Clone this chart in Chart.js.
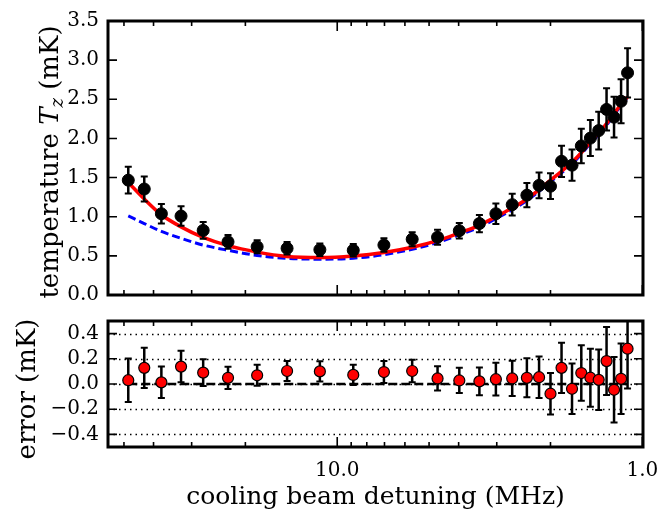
<!DOCTYPE html>
<html>
<head>
<meta charset="utf-8">
<script src="https://cdn.jsdelivr.net/npm/chart.js@4.4.0/dist/chart.umd.min.js"></script>
<style>
  html, body { margin: 0; padding: 0; background: #fff; }
  #wrap { position: relative; width: 661px; height: 513px; }
  #tempChart { position: absolute; left: 0; top: 0; }
  #errChart { position: absolute; left: 0; top: 300px; }
</style>
</head>
<body>
<div id="wrap">
  <canvas id="tempChart" width="661" height="320"></canvas>
  <canvas id="errChart" width="661" height="213"></canvas>
</div>
<script>
// detuning in MHz (x axis, log, reversed)
const detuning = [48.4, 42.9, 37.7, 32.5, 27.5, 22.8, 18.3, 14.6, 11.4, 8.86,
  7.03, 5.68, 4.69, 3.98, 3.42, 3.02, 2.67, 2.39, 2.18, 2.0,
  1.84, 1.70, 1.585, 1.48, 1.39, 1.31, 1.238, 1.174, 1.118];

// measured temperature T_z (mK)
const temperature = [1.467, 1.354, 1.038, 1.008, 0.825, 0.679, 0.617, 0.596, 0.579, 0.571,
  0.638, 0.713, 0.738, 0.821, 0.913, 1.038, 1.154, 1.275, 1.400, 1.390,
  1.708, 1.658, 1.904, 2.004, 2.100, 2.371, 2.271, 2.475, 2.838];

// one sigma error bars (mK), same for both panels
const sigma = [0.172, 0.16, 0.125, 0.125, 0.106, 0.088, 0.083, 0.08, 0.08, 0.08,
  0.087, 0.09, 0.096, 0.1, 0.11, 0.13, 0.14, 0.155, 0.165, 0.165,
  0.2, 0.2, 0.22, 0.23, 0.24, 0.27, 0.26, 0.28, 0.315];

// red solid fit curve
const fitFull = [1.437, 1.226, 1.025, 0.870, 0.735, 0.630, 0.548, 0.493, 0.479, 0.499,
  0.543, 0.610, 0.694, 0.793, 0.890, 1.000, 1.110, 1.226, 1.346, 1.467,
  1.580, 1.696, 1.817, 1.954, 2.067, 2.189, 2.317, 2.434, 2.530];

// blue dashed curve
const fitSimple = [1.010, 0.913, 0.813, 0.724, 0.638, 0.571, 0.505, 0.468, 0.458, 0.470,
  0.515, 0.585, 0.670, 0.770, 0.865, 0.975, 1.090, 1.205, 1.325, 1.445,
  1.560, 1.675, 1.800, 1.935, 2.050, 2.170, 2.300, 2.420, 2.520];

// residuals (mK)
const residual = [0.030, 0.128, 0.013, 0.138, 0.090, 0.049, 0.069, 0.103, 0.100, 0.072,
  0.095, 0.103, 0.044, 0.028, 0.021, 0.038, 0.044, 0.049, 0.054, -0.077,
  0.128, -0.038, 0.087, 0.050, 0.033, 0.182, -0.046, 0.041, 0.280];

const zeroLineX = [48.4, 1.118];
const zeroLineY = [0, 0];

const xMin = 0.995;
const xMax = 56.4;
const xTickValues = [1, 2, 3, 4, 5, 6, 7, 8, 9, 10, 20, 30, 40, 50];
const xLabelValues = [1, 10];
const tempTicks = [0, 0.5, 1.0, 1.5, 2.0, 2.5, 3.0, 3.5];
const errTicks = [-0.4, -0.2, 0, 0.2, 0.4];

const tickFont = { family: 'DejaVu Serif', size: 20 };
const titleFont = '25px "DejaVu Serif"';
const yTitleFont = '26px "DejaVu Serif"';

const pts = (xs, ys) => xs.map((x, i) => ({ x: x, y: ys[i] }));

const fmt = v => (v < 0 ? '\u2212' + Math.abs(v).toFixed(1) : Number(v).toFixed(1));

// vertical error bars, drawn just before the marker dataset
const errorBars = {
  id: 'errorBars',
  beforeDatasetDraw(chart, args) {
    const ds = chart.data.datasets[args.index];
    if (!ds.errors) return;
    const { ctx, chartArea: a, scales: { x, y } } = chart;
    ctx.save();
    ctx.beginPath();
    ctx.rect(a.left, a.top, a.right - a.left, a.bottom - a.top);
    ctx.clip();
    ctx.strokeStyle = '#000';
    ctx.beginPath();
    ds.data.forEach((p, i) => {
      const px = x.getPixelForValue(p.x);
      const top = y.getPixelForValue(p.y + ds.errors[i]);
      const bot = y.getPixelForValue(p.y - ds.errors[i]);
      ctx.moveTo(px, top); ctx.lineTo(px, bot);
    });
    ctx.lineWidth = 2.5;
    ctx.stroke();
    ctx.beginPath();
    ds.data.forEach((p, i) => {
      const px = x.getPixelForValue(p.x);
      const top = y.getPixelForValue(p.y + ds.errors[i]);
      const bot = y.getPixelForValue(p.y - ds.errors[i]);
      ctx.moveTo(px - 3.5, top); ctx.lineTo(px + 3.5, top);
      ctx.moveTo(px - 3.5, bot); ctx.lineTo(px + 3.5, bot);
    });
    ctx.lineWidth = 2;
    ctx.stroke();
    ctx.restore();
  }
};

// dotted horizontal grid for the residual panel
const dottedGrid = {
  id: 'dottedGrid',
  beforeDatasetsDraw(chart) {
    const { ctx, chartArea: a, scales: { y } } = chart;
    ctx.save();
    ctx.strokeStyle = '#000';
    ctx.lineWidth = 1.3;
    ctx.setLineDash([1.5, 4]);
    ctx.beginPath();
    errTicks.forEach(v => {
      const py = Math.round(y.getPixelForValue(v)) + 0.5;
      ctx.moveTo(a.left, py); ctx.lineTo(a.right, py);
    });
    ctx.stroke();
    ctx.restore();
  }
};

// inward ticks on all four sides + thick frame
const axesFrame = {
  id: 'axesFrame',
  afterDraw(chart) {
    const { ctx, chartArea: a, scales: { x, y } } = chart;
    ctx.save();
    ctx.strokeStyle = '#000';
    ctx.lineWidth = 1.6;
    ctx.beginPath();
    xTickValues.forEach(v => {
      const px = x.getPixelForValue(v);
      const len = xLabelValues.includes(v) ? 10 : 5;
      ctx.moveTo(px, a.bottom); ctx.lineTo(px, a.bottom - len);
      ctx.moveTo(px, a.top); ctx.lineTo(px, a.top + len);
    });
    y.ticks.forEach(t => {
      const py = y.getPixelForValue(t.value);
      ctx.moveTo(a.left, py); ctx.lineTo(a.left + 9, py);
      ctx.moveTo(a.right, py); ctx.lineTo(a.right - 9, py);
    });
    ctx.stroke();
    ctx.lineWidth = 3;
    ctx.strokeRect(a.left, a.top, a.right - a.left, a.bottom - a.top);
    ctx.restore();
  }
};

// axis titles (the temperature label needs an italic T with subscript z)
const axisTitles = {
  id: 'axisTitles',
  afterDraw(chart, args, opts) {
    const ctx = chart.ctx;
    ctx.save();
    ctx.fillStyle = '#000';
    ctx.textBaseline = 'alphabetic';
    if (opts.xTitle) {
      ctx.font = titleFont;
      ctx.textAlign = 'center';
      ctx.fillText(opts.xTitle, opts.xTitleX, opts.xTitleY);
    }
    ctx.translate(opts.yTitleX, opts.yTitleY);
    ctx.rotate(-Math.PI / 2);
    ctx.textAlign = 'left';
    const parts = opts.yParts;
    let total = 0;
    parts.forEach(p => { ctx.font = p.font; p.w = ctx.measureText(p.text).width; total += p.w; });
    let cx = -total / 2;
    parts.forEach(p => {
      ctx.font = p.font;
      ctx.fillText(p.text, cx, p.dy || 0);
      cx += p.w;
    });
    ctx.restore();
  }
};

const yAxisCommon = {
  grid: { display: false, drawTicks: false },
  border: { display: false },
  ticks: { font: tickFont, color: '#000', padding: 9, callback: v => fmt(v) },
  afterFit(scale) { scale.width = 108; }
};

new Chart(document.getElementById('tempChart'), {
  type: 'scatter',
  data: {
    datasets: [
      {
        label: 'T_z', data: pts(detuning, temperature), errors: sigma,
        backgroundColor: '#000', borderColor: '#000', pointRadius: 6, pointBorderWidth: 1, order: 0
      },
      {
        label: 'fit', data: pts(detuning, fitFull), showLine: true,
        borderColor: '#ff0000', borderWidth: 3.5, pointRadius: 0,
        cubicInterpolationMode: 'monotone', order: 1
      },
      {
        label: 'model', data: pts(detuning, fitSimple), showLine: true,
        borderColor: '#0000ff', borderWidth: 3, borderDash: [8, 4], pointRadius: 0,
        cubicInterpolationMode: 'monotone', order: 2
      }
    ]
  },
  options: {
    responsive: false,
    animation: false,
    layout: { padding: { left: 0, top: 15, right: 18, bottom: 25 } },
    plugins: {
      legend: { display: false },
      tooltip: { enabled: false },
      axisTitles: {
        yTitleX: 58, yTitleY: 162,
        yParts: [
          { text: 'temperature ', font: yTitleFont },
          { text: 'T', font: 'italic 26px "DejaVu Serif"' },
          { text: 'z', font: 'italic 18px "DejaVu Serif"', dy: 5 },
          { text: ' (mK)', font: yTitleFont }
        ]
      }
    },
    scales: {
      x: { type: 'logarithmic', reverse: true, min: xMin, max: xMax, display: false },
      y: Object.assign({}, yAxisCommon, {
        min: 0, max: 3.5,
        afterBuildTicks(scale) { scale.ticks = tempTicks.map(v => ({ value: v })); }
      })
    }
  },
  plugins: [errorBars, axesFrame, axisTitles]
});

new Chart(document.getElementById('errChart'), {
  type: 'scatter',
  data: {
    datasets: [
      {
        label: 'error', data: pts(detuning, residual), errors: sigma,
        backgroundColor: '#ff0000', borderColor: '#000', pointRadius: 5.5, pointBorderWidth: 1.2, order: 0
      },
      {
        label: 'zero', data: pts(zeroLineX, zeroLineY), showLine: true,
        borderColor: '#000', borderWidth: 2.5, borderDash: [9, 4], pointRadius: 0, order: 1
      }
    ]
  },
  options: {
    responsive: false,
    animation: false,
    layout: { padding: { left: 0, top: 16, right: 18, bottom: 0 } },
    plugins: {
      legend: { display: false },
      tooltip: { enabled: false },
      axisTitles: {
        xTitle: 'cooling beam detuning (MHz)', xTitleX: 375.5, xTitleY: 204,
        yTitleX: 35, yTitleY: 89,
        yParts: [{ text: 'error (mK)', font: yTitleFont }]
      }
    },
    scales: {
      x: {
        type: 'logarithmic', reverse: true, min: xMin, max: xMax,
        grid: { display: false, drawTicks: false },
        border: { display: false },
        afterBuildTicks(scale) { scale.ticks = xTickValues.map(v => ({ value: v })); },
        ticks: {
          font: tickFont, color: '#000', padding: 12, autoSkip: false, maxRotation: 0,
          callback: v => (xLabelValues.includes(v) ? Number(v).toFixed(1) : '')
        },
        afterFit(scale) { scale.height = 66; }
      },
      y: Object.assign({}, yAxisCommon, {
        min: -0.5, max: 0.5,
        afterBuildTicks(scale) { scale.ticks = errTicks.map(v => ({ value: v })); }
      })
    }
  },
  plugins: [dottedGrid, errorBars, axesFrame, axisTitles]
});
</script>
</body>
</html>
